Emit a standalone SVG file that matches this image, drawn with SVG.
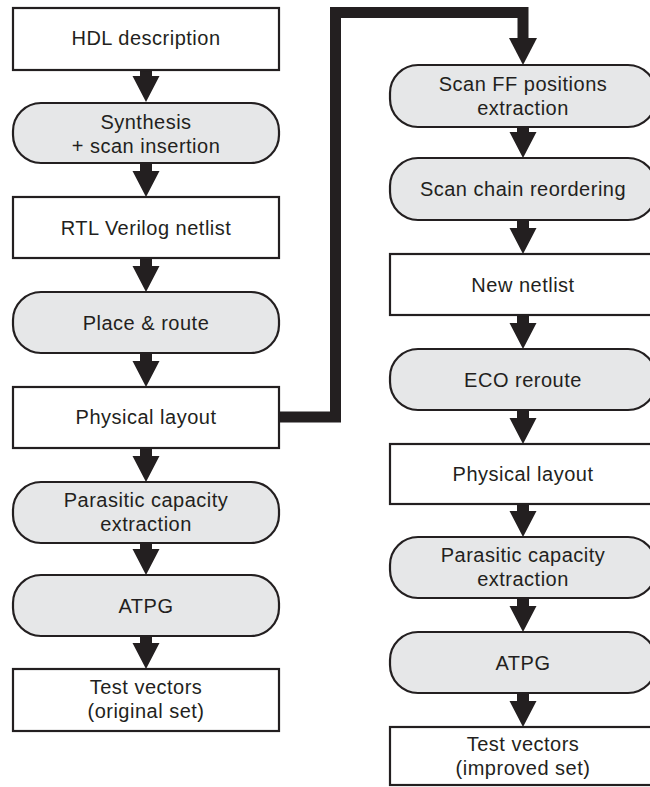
<svg xmlns="http://www.w3.org/2000/svg" width="650" height="787" viewBox="0 0 650 787">
<style>
.box{fill:#ffffff;stroke:#231f20;stroke-width:2.2}
.pill{fill:#e6e7e8;stroke:#231f20;stroke-width:2.2}
.t{font-family:"Liberation Sans",Arial,sans-serif;font-size:20px;letter-spacing:0.5px;fill:#231f20;text-anchor:middle}
.arr{fill:#231f20}
</style>
<rect width="650" height="787" fill="#ffffff"/>
<g id="connectors">
<path class="arr" d="M140,70 H152 V76 H159.5 L146,102 L132.5,76 H140 Z"/>
<path class="arr" d="M140,163 H152 V171 H159.5 L146,197 L132.5,171 H140 Z"/>
<path class="arr" d="M140,258 H152 V266 H159.5 L146,292 L132.5,266 H140 Z"/>
<path class="arr" d="M140,353 H152 V361 H159.5 L146,387 L132.5,361 H140 Z"/>
<path class="arr" d="M140,448 H152 V456 H159.5 L146,482 L132.5,456 H140 Z"/>
<path class="arr" d="M140,543 H152 V549 H159.5 L146,575 L132.5,549 H140 Z"/>
<path class="arr" d="M140,636 H152 V643 H159.5 L146,669 L132.5,643 H140 Z"/>
<path class="arr" d="M517,127 H529 V132 H536.5 L523,158 L509.5,132 H517 Z"/>
<path class="arr" d="M517,220 H529 V228 H536.5 L523,254 L509.5,228 H517 Z"/>
<path class="arr" d="M517,315 H529 V323 H536.5 L523,349 L509.5,323 H517 Z"/>
<path class="arr" d="M517,410 H529 V418 H536.5 L523,444 L509.5,418 H517 Z"/>
<path class="arr" d="M517,504 H529 V511 H536.5 L523,537 L509.5,511 H517 Z"/>
<path class="arr" d="M517,598 H529 V606 H536.5 L523,632 L509.5,606 H517 Z"/>
<path class="arr" d="M517,693 H529 V701 H536.5 L523,727 L509.5,701 H517 Z"/>
<polyline points="279,417 335.5,417 335.5,12.5 523,12.5 523,40" fill="none" stroke="#231f20" stroke-width="11" stroke-linejoin="miter"/>
<path class="arr" d="M509,38 H537 L523,65 Z"/>
</g>
<g id="n_hdl"><rect class="box" x="13" y="8" width="266" height="62"/><text class="t" x="146" y="45">HDL description</text></g>
<g id="n_synth"><rect class="pill" x="13" y="103" width="266" height="60" rx="28"/><text class="t" x="146" y="129">Synthesis</text><text class="t" x="146" y="153">+ scan insertion</text></g>
<g id="n_rtl"><rect class="box" x="13" y="197" width="266" height="61"/><text class="t" x="146" y="235">RTL Verilog netlist</text></g>
<g id="n_pr"><rect class="pill" x="13" y="292" width="266" height="61" rx="28"/><text class="t" x="146" y="330">Place &amp; route</text></g>
<g id="n_phys1"><rect class="box" x="13" y="387" width="266" height="61"/><text class="t" x="146" y="424">Physical layout</text></g>
<g id="n_para1"><rect class="pill" x="13" y="482" width="266" height="61" rx="28"/><text class="t" x="146" y="507">Parasitic capacity</text><text class="t" x="146" y="531">extraction</text></g>
<g id="n_atpg1"><rect class="pill" x="13" y="575" width="266" height="61" rx="28"/><text class="t" x="146" y="613">ATPG</text></g>
<g id="n_tv1"><rect class="box" x="13" y="669" width="266" height="62"/><text class="t" x="146" y="694">Test vectors</text><text class="t" x="146" y="718">(original set)</text></g>
<g id="n_scanff"><rect class="pill" x="390" y="65" width="266" height="62" rx="28"/><text class="t" x="523" y="91">Scan FF positions</text><text class="t" x="523" y="115">extraction</text></g>
<g id="n_reorder"><rect class="pill" x="390" y="158" width="266" height="62" rx="28"/><text class="t" x="523" y="196">Scan chain reordering</text></g>
<g id="n_newnet"><rect class="box" x="390" y="254" width="266" height="61"/><text class="t" x="523" y="292">New netlist</text></g>
<g id="n_eco"><rect class="pill" x="390" y="349" width="266" height="61" rx="28"/><text class="t" x="523" y="387">ECO reroute</text></g>
<g id="n_phys2"><rect class="box" x="390" y="444" width="266" height="60"/><text class="t" x="523" y="481">Physical layout</text></g>
<g id="n_para2"><rect class="pill" x="390" y="537" width="266" height="61" rx="28"/><text class="t" x="523" y="562">Parasitic capacity</text><text class="t" x="523" y="586">extraction</text></g>
<g id="n_atpg2"><rect class="pill" x="390" y="632" width="266" height="61" rx="28"/><text class="t" x="523" y="670">ATPG</text></g>
<g id="n_tv2"><rect class="box" x="390" y="727" width="266" height="58"/><text class="t" x="523" y="751">Test vectors</text><text class="t" x="523" y="775">(improved set)</text></g>
</svg>
